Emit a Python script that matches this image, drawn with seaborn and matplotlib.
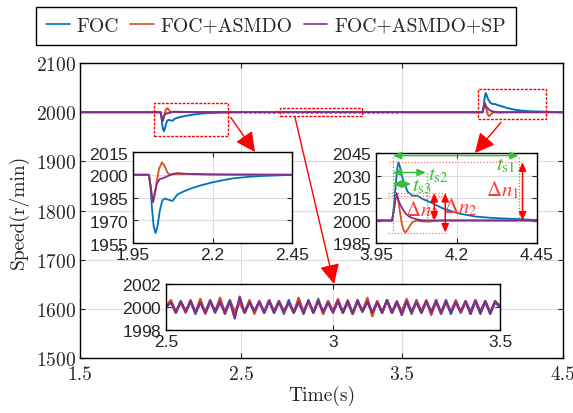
import numpy as np
import pandas as pd
import matplotlib
matplotlib.use("Agg")
import matplotlib.pyplot as plt
import seaborn as sns
from matplotlib.patches import Rectangle, ConnectionPatch

# ---------------- data ----------------
methods = ["FOC", "FOC+ASMDO", "FOC+ASMDO+SP"]
colors = ["#0072BD", "#D95319", "#7E2F8E"]

# load-on transient near t = 2.0 s
foc_t1 = [2.000, 2.005, 2.010, 2.015, 2.021, 2.027, 2.034, 2.042, 2.050, 2.060, 2.074,
          2.090, 2.107, 2.133, 2.160, 2.200, 2.235, 2.264, 2.317, 2.370, 2.420, 2.460]
foc_v1 = [2000, 1992, 1977, 1966, 1961.5, 1966, 1976, 1983, 1984.3, 1983.6, 1982.7,
          1987, 1988.8, 1991, 1992.8, 1995, 1996.5, 1997.6, 1998.7, 1999.3, 1999.7, 2000]
asmdo_t1 = [2.000, 2.005, 2.010, 2.013, 2.018, 2.025, 2.032, 2.041, 2.050, 2.058, 2.066,
            2.080, 2.100, 2.150, 2.250, 2.460]
asmdo_v1 = [2000, 1993, 1985, 1982, 1986, 1996, 2004, 2008.2, 2005.5, 2001.5, 2000,
            2000.4, 2000.6, 2000.3, 2000.1, 2000]
sp_t1 = [2.000, 2.005, 2.010, 2.013, 2.018, 2.025, 2.034, 2.045, 2.060, 2.075, 2.090,
         2.120, 2.200, 2.460]
sp_v1 = [2000, 1993, 1985, 1982, 1988, 1994, 1997.2, 1997.8, 1999.2, 2000.6, 2001,
         2000.6, 2000.2, 2000]

# steady-state ripple, 2.5 s .. 3.5 s (evenly spaced samples)
foc_rip = [2000.0, 2000.5, 1999.5, 2000.5, 1999.6, 2000.5, 1999.4, 2000.5, 1999.5, 2000.6,
           1999.5, 2000.4, 1999.6, 2000.6, 1999.4, 2000.5, 1999.5, 2000.5, 1999.6, 2000.4,
           1999.5, 2000.6, 1999.5, 2000.5, 1999.4, 2000.6, 1999.5, 2000.4, 1999.6, 2000.5,
           1999.5, 2000.7, 1999.4, 2000.5, 1999.6, 2000.6, 1999.5, 2000.4, 1999.5, 2000.6,
           1999.6, 2000.5, 1999.4, 2000.5, 1999.5, 2000.6, 1999.5, 2000.4, 1999.6, 2000.5,
           1999.4, 2000.6, 1999.5, 2000.5, 1999.6, 2000.4, 1999.5, 2000.6, 1999.4, 2000.5,
           1999.5, 2000.5, 1999.6, 2000.6, 1999.4, 2000.5, 1999.5, 2000.4, 2000.0]
asmdo_rip = [2000.1, 2000.6, 1999.6, 2000.4, 1999.5, 2000.6, 1999.5, 2000.7, 1999.4, 2000.5,
             1999.6, 2000.8, 1999.5, 2000.5, 1999.6, 2000.4, 1999.5, 2000.6, 1999.4, 2000.5,
             1999.5, 2000.6, 1999.6, 2000.5, 1999.5, 2000.4, 1999.5, 2000.8, 1999.6, 2000.5,
             1999.5, 2000.6, 1999.4, 2000.5, 1999.6, 2000.7, 1999.5, 2000.6, 1999.4, 2000.5,
             1999.6, 2000.8, 1999.2, 2000.5, 1999.5, 2000.6, 1999.5, 2000.4, 1999.6, 2000.7,
             1999.5, 2000.5, 1999.6, 2000.6, 1999.3, 2000.5, 1999.5, 2000.4, 1999.6, 2000.6,
             1999.5, 2000.5, 1999.4, 2000.6, 1999.6, 2000.5, 1999.5, 2000.5, 2000.1]
sp_rip = [2000.0, 2000.4, 1999.5, 2000.5, 1999.6, 2000.5, 1999.5, 2000.4, 1999.5, 2000.5,
          1999.6, 2000.5, 1999.4, 2000.5, 1999.0, 2000.9, 1999.5, 2000.4, 1999.6, 2000.5,
          1999.5, 2000.5, 1999.5, 2000.5, 1999.6, 2000.4, 1999.5, 2000.5, 1999.4, 2000.6,
          1999.5, 2000.5, 1999.6, 2000.4, 1999.5, 2000.5, 1999.5, 2000.5, 1999.4, 2000.5,
          1999.6, 2000.5, 1999.5, 2000.4, 1999.5, 2000.6, 1999.5, 2000.5, 1999.3, 2000.5,
          1999.6, 2000.4, 1999.5, 2000.5, 1999.5, 2000.6, 1999.4, 2000.5, 1999.5, 2000.4,
          1999.6, 2000.5, 1999.4, 2000.5, 1999.5, 2000.5, 1999.4, 2000.5, 2000.0]

# load-off transient near t = 4.0 s
foc_t2 = [4.000, 4.006, 4.012, 4.017, 4.020, 4.024, 4.033, 4.048, 4.064, 4.079, 4.095,
          4.120, 4.157, 4.209, 4.260, 4.312, 4.385, 4.450, 4.480]
foc_v2 = [2000, 2010, 2026, 2036, 2038.8, 2036, 2027.7, 2019.2, 2016.5, 2016.5, 2014.3,
          2012.1, 2008.1, 2004.6, 2002.6, 2001.7, 2001, 2000.3, 2000]
asmdo_t2 = [4.000, 4.005, 4.010, 4.014, 4.019, 4.025, 4.031, 4.036, 4.041, 4.047, 4.055,
            4.064, 4.075, 4.090, 4.110, 4.130, 4.160, 4.480]
asmdo_v2 = [2000, 2006, 2014, 2018.3, 2014, 2005, 1997, 1993.5, 1992, 1993.5, 1996.5,
            1999, 2000, 1999.5, 1999.2, 1999.6, 2000, 2000]
sp_t2 = [4.000, 4.005, 4.010, 4.014, 4.020, 4.028, 4.036, 4.043, 4.053, 4.064, 4.080,
         4.095, 4.480]
sp_v2 = [2000, 2006, 2014, 2018, 2013, 2009.5, 2006.5, 2004.4, 2002.6, 2001.6, 2000.6,
         2000.1, 2000]

t_start, t_end, n_ref = 1.5, 4.5, 2000
rip_start, rip_end = 2.5, 3.5

main_xticks = [1.5, 2.5, 3.5, 4.5]
main_yticks = [1500, 1600, 1700, 1800, 1900, 2000, 2100]
in1_xticks, in1_yticks = [1.95, 2.2, 2.45], [1955, 1970, 1985, 2000, 2015]
in2_xticks, in2_yticks = [3.95, 4.2, 4.45], [1985, 2000, 2015, 2030, 2045]
in3_xticks, in3_yticks = [2.5, 3.0, 3.5], [1998, 2000, 2002]


def build(name, t1, v1, rip, t2, v2):
    t = [t_start] + t1 + list(np.linspace(rip_start, rip_end, len(rip))) + t2 + [t_end]
    v = [n_ref] + v1 + rip + v2 + [n_ref]
    return pd.DataFrame({"t": t, "speed": v, "method": name})


df = pd.concat([
    build(methods[0], foc_t1, foc_v1, foc_rip, foc_t2, foc_v2),
    build(methods[1], asmdo_t1, asmdo_v1, asmdo_rip, asmdo_t2, asmdo_v2),
    build(methods[2], sp_t1, sp_v1, sp_rip, sp_t2, sp_v2),
], ignore_index=True)

# ---------------- style ----------------
sns.set_style("ticks")
plt.rcParams["font.family"] = ["cmr10", "DejaVu Serif"]
plt.rcParams["mathtext.fontset"] = "stix"
plt.rcParams["axes.formatter.use_mathtext"] = True
plt.rcParams["axes.unicode_minus"] = False

W, H = 573, 414
fig = plt.figure(figsize=(W / 100, H / 100), dpi=100)

GRID = "#dcdcdc"


def style_axes(ax, sans=False, fs=13.5):
    ax.grid(True, color=GRID, lw=0.8)
    ax.set_axisbelow(True)
    for s in ax.spines.values():
        s.set_visible(True)
        s.set_color("black")
        s.set_linewidth(1.0)
    ax.tick_params(direction="in", top=True, right=True, length=3.5, width=0.8,
                   labelsize=fs, pad=3)
    if sans:
        ax.tick_params(labelfontfamily="Liberation Sans")


def px_axes(x0, y0, x1, y1, **kw):
    return fig.add_axes([x0 / W, (H - y1) / H, (x1 - x0) / W, (y1 - y0) / H], **kw)


ax = px_axes(80, 64, 563, 359.3)
sns.lineplot(data=df, x="t", y="speed", hue="method", hue_order=methods, palette=colors,
             sort=False, estimator=None, lw=1.4, ax=ax, legend=True)
ax.set_xlim(1.5, 4.5)
ax.set_ylim(1500, 2100)
ax.set_xticks(main_xticks)
ax.set_xticklabels(["1.5", "2.5", "3.5", "4.5"])
ax.set_yticks(main_yticks)
style_axes(ax, fs=14)
ax.tick_params(axis="x", pad=5)
ax.set_xlabel("Time(s)", fontsize=14, labelpad=1)
ax.set_ylabel("Speed(r/min)", fontsize=14, labelpad=5)

handles, labels = ax.get_legend_handles_labels()
ax.get_legend().remove()
leg = fig.legend(handles, labels, loc="center", bbox_to_anchor=(276 / W, 1 - 27 / H), ncol=3,
                 frameon=True, fancybox=False, edgecolor="black", fontsize=14.2,
                 handlelength=1.2, handletextpad=0.35, columnspacing=0.55, borderpad=0.5,
                 borderaxespad=0, framealpha=1)
leg.get_frame().set_linewidth(1.0)
for lh in leg.get_lines():
    lh.set_linewidth(1.2)

# dashed boxes on main axes
boxes = [((1.96, 1952), (2.42, 2018)), ((2.742, 1992.8), (3.253, 2008.5)),
         ((3.97, 1986), (4.394, 2047))]
for (x0, y0), (x1, y1) in boxes:
    ax.add_patch(Rectangle((x0, y0), x1 - x0, y1 - y0, fill=False, ec="red", lw=1.0,
                           ls=(0, (2, 1)), zorder=5))

# ---------------- insets ----------------
ins1 = px_axes(133, 153, 292, 244)
ins2 = px_axes(376, 154, 537, 244)
ins3 = px_axes(166, 285, 500, 331)
specs = [(ins1, (1.95, 2.45), (1955, 2015), in1_xticks, ["1.95", "2.2", "2.45"], in1_yticks, 1.3),
         (ins2, (3.95, 4.45), (1985, 2045), in2_xticks, ["3.95", "4.2", "4.45"], in2_yticks, 1.3),
         (ins3, (2.5, 3.5), (1998, 2002), in3_xticks, ["2.5", "3", "3.5"], in3_yticks, 1.7)]
for a, xl, yl, xt, xtl, yt, lw in specs:
    a.set_facecolor("white")
    sns.lineplot(data=df, x="t", y="speed", hue="method", hue_order=methods, palette=colors,
                 sort=False, estimator=None, lw=lw, ax=a, legend=False)
    a.set_xlim(*xl)
    a.set_ylim(*yl)
    a.set_xticks(xt)
    a.set_xticklabels(xtl)
    a.set_yticks(yt)
    a.set_xlabel("")
    a.set_ylabel("")
    style_axes(a, sans=True, fs=12.5)

# arrows from boxes to insets
arrows = [((2.436, 1989.6), ins1, (0.767, 1.0)),
          ((2.835, 1990.0), ins3, (0.503, 1.0)),
          ((4.115, 1979.4), ins2, (0.615, 1.0))]
for (xa, ya), a, (xb, yb) in arrows:
    cp = ConnectionPatch(xyA=(xa, ya), coordsA=ax.transData, xyB=(xb, yb), coordsB=a.transAxes,
                         arrowstyle="-|>,head_length=0.6,head_width=0.3", mutation_scale=20,
                         color="red", lw=1.0, shrinkA=0, shrinkB=0, zorder=10)
    fig.add_artist(cp)

# ---------------- annotations on inset 2 ----------------
RED_D = "#ff7070"
GREEN = "#33c233"
LRED = "#ff3b3b"
for y, xa, xb in [(2038.8, 3.99, 4.405), (2018.3, 3.986, 4.167), (2016.5, 3.986, 4.167),
                  (1992.0, 3.986, 4.167)]:
    ins2.plot([xa, xb], [y, y], color=RED_D, lw=0.9, ls=(0, (1, 1.5)), zorder=4)
for x, ya, yb in [(4.002, 1994, 2043.3), (4.393, 2000, 2043.3), (4.107, 2000, 2032)]:
    ins2.plot([x, x], [ya, yb], color=GREEN, lw=0.9, ls=(0, (1, 1.5)), zorder=4)


def darrow(a, p0, p1, col):
    a.annotate("", xy=p1, xytext=p0,
               arrowprops=dict(arrowstyle="<|-|>,head_length=0.5,head_width=0.22",
                               color=col, lw=1.1, shrinkA=0, shrinkB=0, mutation_scale=10),
               zorder=6)


darrow(ins2, (4.002, 2043.3), (4.393, 2043.3), GREEN)
darrow(ins2, (4.002, 2032.0), (4.105, 2032.0), GREEN)
darrow(ins2, (4.002, 2024.3), (4.059, 2024.3), GREEN)
darrow(ins2, (4.405, 2038.8), (4.405, 2000.0), "red")
darrow(ins2, (4.165, 2018.3), (4.165, 1992.0), "red")
darrow(ins2, (4.131, 2018.3), (4.131, 2000.0), "red")

ins2.text(4.352, 2037.0, r"$t_{\mathrm{s1}}$", color=GREEN, fontsize=15, ha="center", va="center")
ins2.text(4.110, 2030.8, r"$t_{\mathrm{s2}}$", color=GREEN, fontsize=15, ha="left", va="center")
ins2.text(4.063, 2023.5, r"$t_{\mathrm{s3}}$", color=GREEN, fontsize=15, ha="left", va="center")
ins2.text(4.343, 2021.0, r"$\Delta n_1$", color=LRED, fontsize=15, ha="center", va="center")
ins2.text(4.212, 2009.5, r"$\Delta n_2$", color=LRED, fontsize=15, ha="center", va="center")
ins2.text(4.092, 2007.5, r"$\Delta n_3$", color=LRED, fontsize=15, ha="center", va="center")

fig.savefig("out.png", dpi=100)
